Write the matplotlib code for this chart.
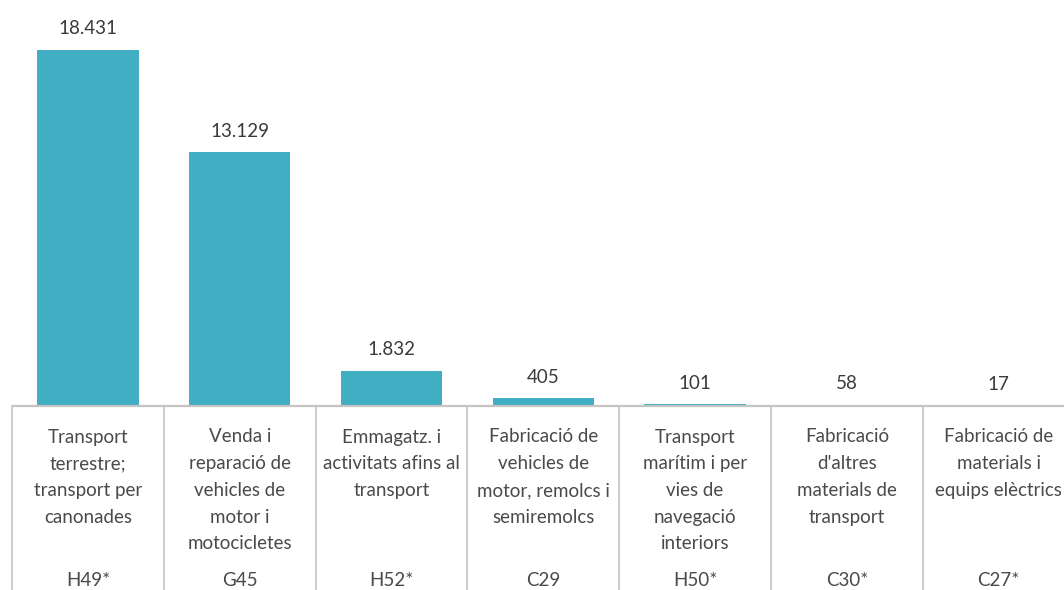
import matplotlib
matplotlib.use("Agg")
import matplotlib.pyplot as plt

codes = ["H49*", "G45", "H52*", "C29", "H50*", "C30*", "C27*"]
values = [18431, 13129, 1832, 405, 101, 58, 17]
value_labels = ["18.431", "13.129", "1.832", "405", "101", "58", "17"]
descriptions = [
    "Transport\nterrestre;\ntransport per\ncanonades",
    "Venda i\nreparació de\nvehicles de\nmotor i\nmotocicletes",
    "Emmagatz. i\nactivitats afins al\ntransport",
    "Fabricació de\nvehicles de\nmotor, remolcs i\nsemiremolcs",
    "Transport\nmarítim i per\nvies de\nnavegació\ninteriors",
    "Fabricació\nd'altres\nmaterials de\ntransport",
    "Fabricació de\nmaterials i\nequips elèctrics",
]

W, H = 1064, 590
BAR_COLOR = "#41AEC3"
VAL_COLOR = "#3a3a3a"
TXT_COLOR = "#4a4a4a"
GRID_COLOR = "#c4c4c4"
FONT = "Lato"

plt.rcParams["font.family"] = [FONT, "DejaVu Sans"]

fig = plt.figure(figsize=(W / 100, H / 100), dpi=100)
fig.patch.set_facecolor("white")

cat_w = 151.8
left_px = 12
base_px = 406
n = len(codes)
left = left_px / W
width = n * cat_w / W

ax = fig.add_axes([left, (H - base_px) / H, width, base_px / H])
x = list(range(n))
ax.bar(x, values, width=0.667, color=BAR_COLOR, linewidth=0)
ax.set_xlim(-0.5, n - 0.5)
ax.set_ylim(0, max(values) * base_px / 356)
ax.axis("off")
for xi, v, lab in zip(x, values, value_labels):
    ax.annotate(lab, (xi, v), xytext=(0, 21), textcoords="offset pixels",
                ha="center", va="center", fontsize=13.5, color=VAL_COLOR)

tab_h = H - base_px
tax = fig.add_axes([left, 0, width, tab_h / H])
tax.set_xlim(-0.5, n - 0.5)
tax.set_ylim(tab_h, 0)
tax.axis("off")
tax.plot([-0.5, n - 0.5], [0, 0], color=GRID_COLOR, lw=1.6, clip_on=False,
         solid_capstyle="butt")
for b in range(n + 1):
    tax.plot([b - 0.5, b - 0.5], [0, tab_h + 10], color=GRID_COLOR, lw=1.2,
             clip_on=False)
line_gap = 26.7
for xi, desc, code in zip(x, descriptions, codes):
    for i, line in enumerate(desc.split("\n")):
        tax.text(xi, 31 + i * line_gap, line, ha="center", va="center",
                 fontsize=13.5, color=TXT_COLOR, clip_on=False)
    tax.text(xi, tab_h - 1.5, code, ha="center", va="bottom", fontsize=13.5,
             color=TXT_COLOR, clip_on=False)

fig.savefig("out.png", dpi=100, facecolor="white")
